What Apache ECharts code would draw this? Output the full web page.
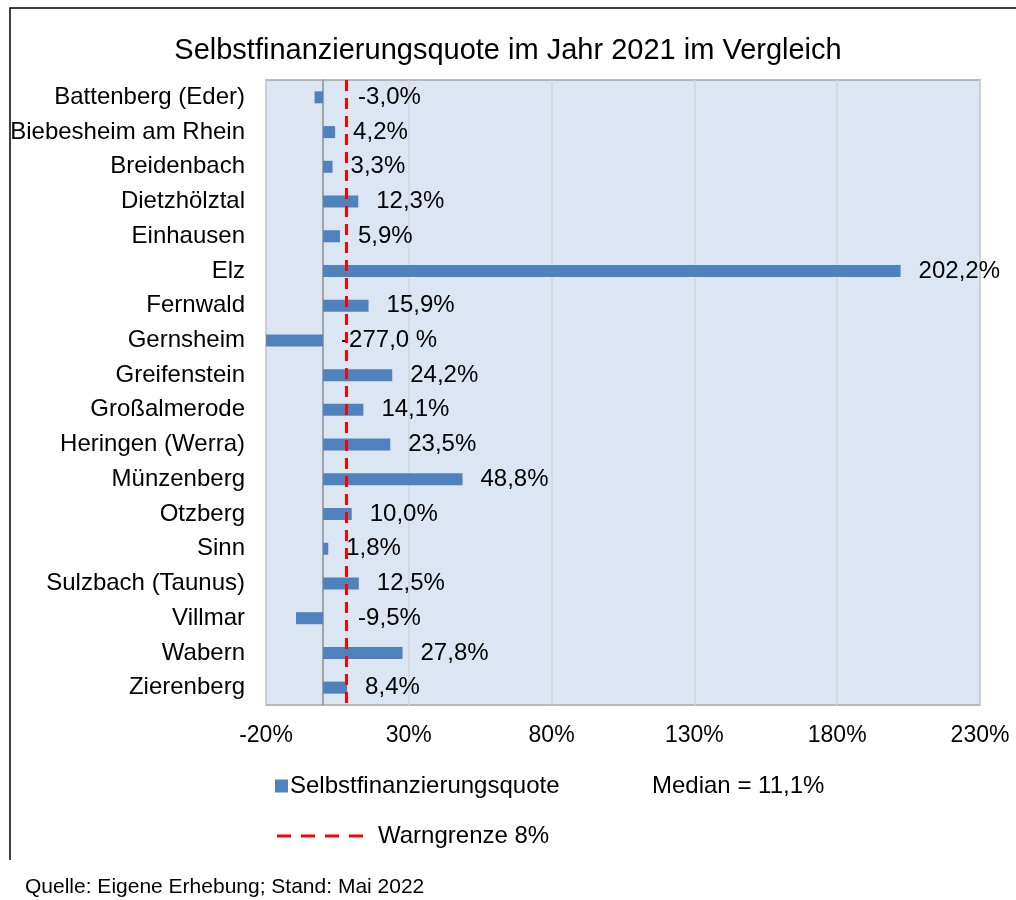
<!DOCTYPE html>
<html>
<head>
<meta charset="utf-8">
<script src="https://cdn.jsdelivr.net/npm/echarts@6/dist/echarts.min.js"></script>
<style>
  html, body { margin: 0; padding: 0; background: #ffffff; }
  #chart { width: 1016px; height: 900px; }
</style>
</head>
<body>
<div id="chart"></div>
<script>
  var categories = ['Battenberg (Eder)', 'Biebesheim am Rhein', 'Breidenbach', 'Dietzhölztal', 'Einhausen', 'Elz',
    'Fernwald', 'Gernsheim', 'Greifenstein', 'Großalmerode', 'Heringen (Werra)', 'Münzenberg', 'Otzberg', 'Sinn',
    'Sulzbach (Taunus)', 'Villmar', 'Wabern', 'Zierenberg'];
  var quoteValues = [-3.0, 4.2, 3.3, 12.3, 5.9, 202.2, 15.9, -277.0, 24.2, 14.1, 23.5, 48.8, 10.0, 1.8, 12.5, -9.5, 27.8, 8.4];
  var warnLimit = 8;
  var medianText = 'Median = 11,1%';
  var xMin = -20, xMax = 230, xStep = 50;

  var font = '"Liberation Sans", Arial, sans-serif';
  var chart = echarts.init(document.getElementById('chart'));

  function fmt(v) {
    var s = v.toFixed(1).replace('.', ',');
    // values beyond the axis range were written with a space in the source
    return v < xMin ? s + ' %' : s + '%';
  }

  // negative bars inside the range get their label pushed further right of the zero line
  var barData = quoteValues.map(function (v) {
    if (v < 0 && v >= xMin) {
      return { value: v, label: { distance: 35 } };
    }
    return v;
  });

  var option = {
    animation: false,
    textStyle: { fontFamily: font, color: '#000' },
    title: [
      {
        text: 'Selbstfinanzierungsquote im Jahr 2021 im Vergleich',
        left: 'center', top: 31,
        textStyle: { fontFamily: font, fontSize: 29, fontWeight: 'normal', color: '#000' }
      },
      {
        text: medianText, left: 647, top: 769,
        textStyle: { fontFamily: font, fontSize: 24, fontWeight: 'normal', color: '#000' }
      },
      {
        text: 'Quelle: Eigene Erhebung; Stand: Mai 2022', left: 20, top: 872,
        textStyle: { fontFamily: font, fontSize: 21, fontWeight: 'normal', color: '#000' }
      }
    ],
    graphic: [
      {
        type: 'polyline',
        shape: { points: [[10, 860], [10, 8], [1016, 8]] },
        style: { stroke: '#000', lineWidth: 1.5, fill: null }
      }
    ],
    legend: [
      {
        data: [{ name: 'Selbstfinanzierungsquote', icon: 'rect' }],
        left: 270, top: 769,
        itemWidth: 13, itemHeight: 13,
        textStyle: { fontFamily: font, fontSize: 24, color: '#000', padding: [0, 0, 0, -3] }
      },
      {
        data: [{
          name: 'Warngrenze 8%',
          icon: 'path://M0,0h14v3h-14z M24,0h14v3h-14z M48,0h14v3h-14z M72,0h14v3h-14z'
        }],
        left: 272, top: 819,
        itemWidth: 86, itemHeight: 3,
        itemStyle: { color: '#ff0000' },
        textStyle: { fontFamily: font, fontSize: 24, color: '#000', padding: [0, 0, 0, 10] }
      }
    ],
    grid: {
      left: 266, right: 36, top: 80, bottom: 195,
      show: true, backgroundColor: '#dce6f2', borderColor: '#a6a6a6', borderWidth: 1.5
    },
    xAxis: {
      type: 'value', min: xMin, max: xMax, interval: xStep,
      axisLine: { show: false },
      axisTick: { show: false },
      splitLine: { show: true, lineStyle: { color: '#d4d6da', width: 1.5 } },
      axisLabel: {
        fontFamily: font, fontSize: 23, color: '#000', margin: 19,
        formatter: function (v) { return v + '%'; }
      }
    },
    yAxis: {
      type: 'category', data: categories, inverse: true,
      axisLine: { show: true, onZero: true, lineStyle: { color: '#8c8c8c', width: 1.5 } },
      axisTick: { show: false },
      axisLabel: { fontFamily: font, fontSize: 24, color: '#000', margin: 21 }
    },
    series: [
      {
        name: 'Selbstfinanzierungsquote',
        type: 'bar',
        data: barData,
        barWidth: 12,
        clip: true,
        itemStyle: { color: '#4f81bd' },
        label: {
          show: true, position: 'right', distance: 18,
          fontFamily: font, fontSize: 24, color: '#000',
          formatter: function (p) { return fmt(p.value); }
        },
        z: 2
      },
      {
        name: 'Warngrenze 8%',
        type: 'line',
        data: [],
        symbol: 'none',
        lineStyle: { color: '#ff0000', width: 3 },
        itemStyle: { color: '#ff0000' },
        markLine: {
          silent: true,
          symbol: ['none', 'none'],
          label: { show: false },
          lineStyle: { color: '#ff0000', width: 3, type: [11, 7] },
          data: [{ xAxis: warnLimit }]
        },
        z: 3
      }
    ]
  };

  chart.setOption(option);
</script>
</body>
</html>
